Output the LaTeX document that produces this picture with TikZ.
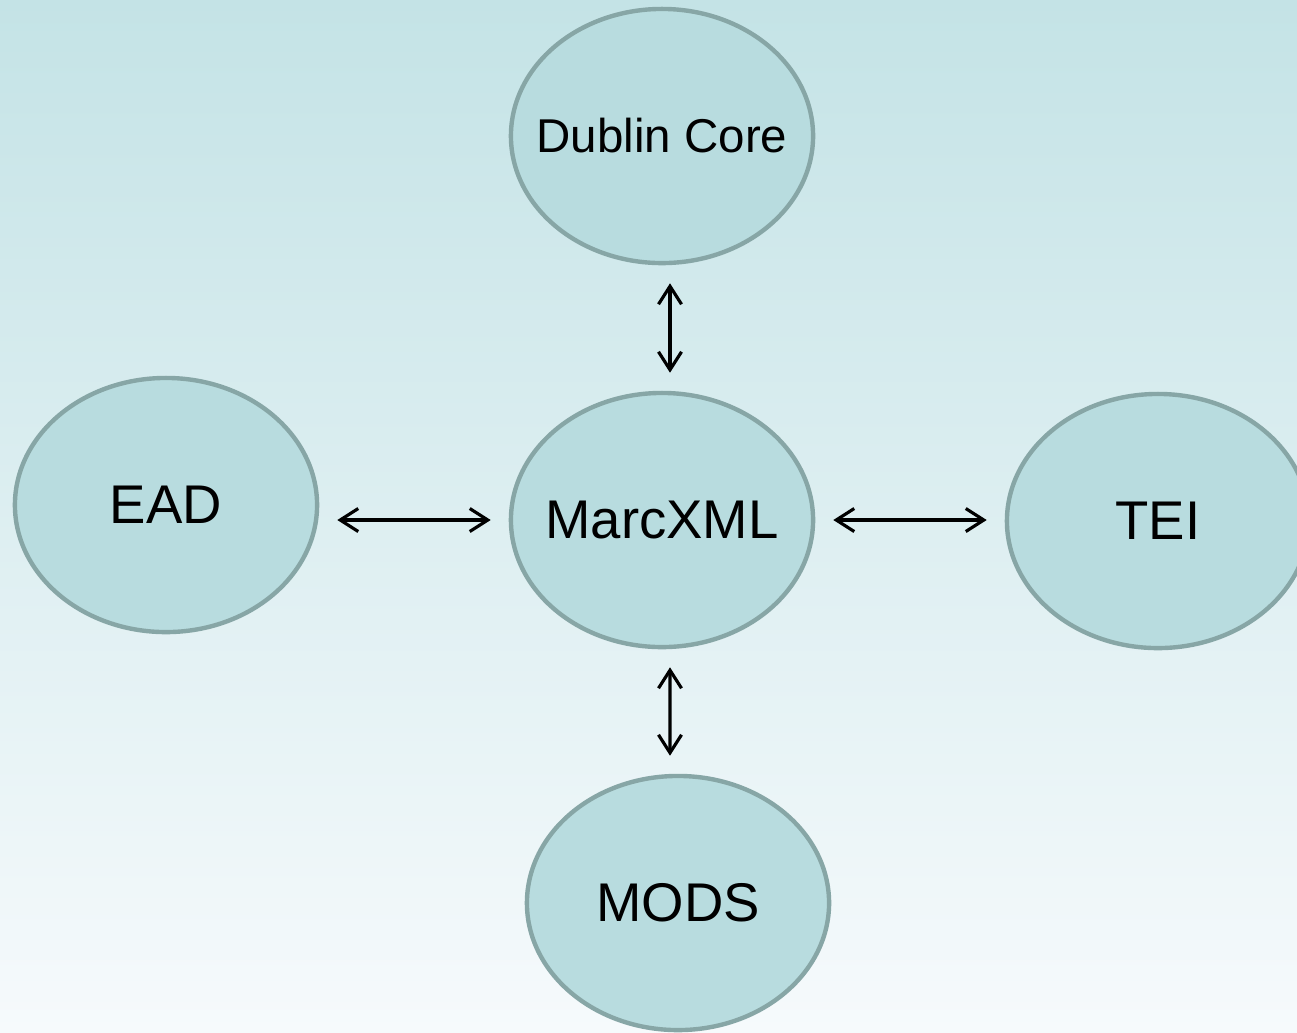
\documentclass[tikz,border=0pt]{standalone}
\usepackage{fontspec}
\setmainfont{Liberation Sans}
\usetikzlibrary{arrows.meta,shapes.geometric}

\definecolor{bgtop}{HTML}{C4E3E6}
\definecolor{bgbottom}{HTML}{F6FAFC}
\definecolor{blobfill}{HTML}{B8DCDF}
\definecolor{blobline}{HTML}{87A6A6}

\begin{document}
\begin{tikzpicture}[x=0.01cm,y=-0.01cm,
    format/.style={ellipse,draw=blobline,fill=blobfill,line width=1.25pt,
        minimum width=3.02cm,minimum height=2.54cm,inner sep=0pt,
        font=\fontsize{15.5}{18}\selectfont,
        execute at begin node={\hbox to 0pt\bgroup\hss},
        execute at end node={\hss\egroup}},
    link/.style={{Straight Barb[length=1.8mm,width=2.3mm]}-{Straight Barb[length=1.8mm,width=2.3mm]},
        line width=0.9pt,shorten <=0.18cm,shorten >=0.18cm}]

    % Background
    \clip (0,0) rectangle (1297,1032);
    \shade [top color=bgtop,bottom color=bgbottom] (0,0) rectangle (1297,1032);

    % Formats
    \node [format] (marc) at (662,520) {MarcXML};
    \node [format,font=\fontsize{13.5}{16}\selectfont] (dublin) at (662,136) {Dublin Core};
    \node [format] (ead) at (166,505) {EAD};
    \node [format] (tei) at (1158,521) {TEI};
    \node [format] (mods) at (678,903) {MODS};

    % Crosswalks
    \draw [link] ([xshift=0.08cm]dublin.south) -- ([xshift=0.08cm]marc.north);
    \draw [link] ([xshift=0.08cm]marc.south) -- ([xshift=-0.08cm]mods.north);
    \draw [link] (ead.east |- marc.west) -- (marc.west);
    \draw [link] (marc.east) -- (tei.west |- marc.east);

\end{tikzpicture}
\end{document}
